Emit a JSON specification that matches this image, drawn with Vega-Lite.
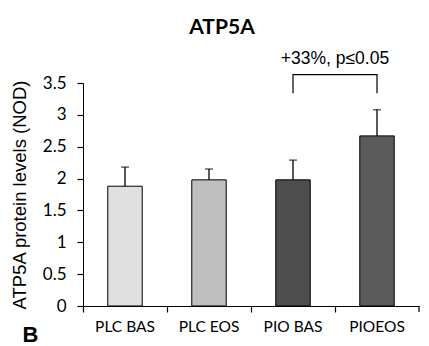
{
  "$schema": "https://vega.github.io/schema/vega-lite/v6.json",
  "autosize": "none",
  "width": 336,
  "height": 223,
  "padding": {"left": 83, "top": 83, "right": 10, "bottom": 40},
  "background": "white",
  "config": {
    "view": {"stroke": null},
    "axisX": {
      "titleAngle": 0, "titleAnchor": "start", "titleAlign": "left", "titleBaseline": "alphabetic",
      "titleX": -61, "titleY": 35, "titleFont": "Liberation Sans", "titleFontSize": 22, "titleFontWeight": "bold", "titleColor": "black",
      "bandPosition": 0, "labelAngle": 0,
      "labelFont": "Lato", "labelFontSize": 15.5, "labelColor": "black", "labelPadding": 7,
      "domainColor": "black", "tickColor": "black", "tickSize": 6, "domainWidth": 1, "tickWidth": 1.2
    },
    "axisY": {
      "titleFont": "Liberation Sans", "titleFontSize": 18.5, "titleFontWeight": "normal", "titleColor": "black", "titlePadding": 13,
      "format": "~g", "grid": false, "labelOverlap": false,
      "labelFont": "Lato", "labelFontSize": 17, "labelColor": "black", "labelPadding": 11,
      "domainColor": "black", "tickColor": "black", "tickSize": 6, "tickWidth": 1.2, "domainWidth": 1
    }
  },
  "title": {"text": "ATP5A", "font": "Lato", "fontWeight": "bold", "fontSize": 21, "color": "black", "offset": 12, "frame": "group", "dx": -29},
  "datasets": {
    "bars": [
      {"group": "PLC BAS", "value": 1.88, "err": 2.18},
      {"group": "PLC EOS", "value": 1.98, "err": 2.15},
      {"group": "PIO BAS", "value": 1.98, "err": 2.29},
      {"group": "PIOEOS", "value": 2.67, "err": 3.08}
    ],
    "bracket": [
      {"group": "PIO BAS", "y": 3.34, "o": 1},
      {"group": "PIO BAS", "y": 3.63, "o": 2},
      {"group": "PIOEOS", "y": 3.63, "o": 3},
      {"group": "PIOEOS", "y": 3.34, "o": 4}
    ]
  },
  "layer": [
    {
      "data": {"name": "bars"},
      "mark": {"type": "bar", "stroke": "black", "strokeWidth": 1, "width": {"band": 0.41}},
      "encoding": {
        "x": {
          "field": "group", "type": "nominal",
          "scale": {"domain": ["PLC BAS", "PLC EOS", "PIO BAS", "PIOEOS"], "paddingInner": 0, "paddingOuter": 0},
          "axis": {"title": "B", "bandPosition": 0}
        },
        "y": {
          "field": "value", "type": "quantitative",
          "scale": {"domain": [0, 3.5], "nice": false},
          "axis": {"title": "ATP5A protein levels (NOD)", "values": [0, 0.5, 1, 1.5, 2, 2.5, 3, 3.5]}
        },
        "fill": {
          "field": "group", "type": "nominal", "legend": null,
          "scale": {"domain": ["PLC BAS", "PLC EOS", "PIO BAS", "PIOEOS"], "range": ["#e0e0e0", "#bfbfbf", "#4d4d4d", "#5a5a5a"]}
        }
      }
    },
    {
      "data": {"name": "bars"},
      "mark": {"type": "rule", "color": "black", "strokeWidth": 1.3},
      "encoding": {
        "x": {"field": "group", "type": "nominal", "axis": {"title": "B", "bandPosition": 0}},
        "y": {"field": "err", "type": "quantitative", "axis": {"title": "ATP5A protein levels (NOD)", "values": [0, 0.5, 1, 1.5, 2, 2.5, 3, 3.5]}},
        "y2": {"field": "value"}
      }
    },
    {
      "data": {"name": "bars"},
      "mark": {"type": "tick", "color": "black", "size": 8, "thickness": 1.3, "orient": "horizontal"},
      "encoding": {
        "x": {"field": "group", "type": "nominal", "axis": {"title": "B", "bandPosition": 0}},
        "y": {"field": "err", "type": "quantitative", "axis": {"title": "ATP5A protein levels (NOD)", "values": [0, 0.5, 1, 1.5, 2, 2.5, 3, 3.5]}}
      }
    },
    {
      "data": {"values": [{"group": "PIOEOS"}]},
      "mark": {"type": "rule", "color": "black", "strokeWidth": 1.2, "clip": false},
      "encoding": {
        "x": {"field": "group", "type": "nominal", "bandPosition": 1, "axis": {"title": "B", "bandPosition": 0}},
        "y": {"datum": 0, "axis": {"title": "ATP5A protein levels (NOD)", "values": [0, 0.5, 1, 1.5, 2, 2.5, 3, 3.5]}},
        "y2": {"datum": -0.094}
      }
    },
    {
      "data": {"name": "bracket"},
      "mark": {"type": "line", "color": "black", "strokeWidth": 1.2, "clip": false},
      "encoding": {
        "x": {"field": "group", "type": "nominal", "axis": {"title": "B", "bandPosition": 0}},
        "y": {"field": "y", "type": "quantitative", "axis": {"title": "ATP5A protein levels (NOD)", "values": [0, 0.5, 1, 1.5, 2, 2.5, 3, 3.5]}},
        "order": {"field": "o"}
      }
    },
    {
      "data": {"values": [{"group": "PIOEOS", "y": 3.88, "label": "+33%, p≤0.05"}]},
      "mark": {"type": "text", "font": "Liberation Sans", "fontSize": 17.5, "color": "black", "clip": false, "align": "center", "baseline": "middle"},
      "encoding": {
        "x": {"field": "group", "type": "nominal", "bandPosition": 0, "axis": {"title": "B", "bandPosition": 0}},
        "y": {"field": "y", "type": "quantitative", "axis": {"title": "ATP5A protein levels (NOD)", "values": [0, 0.5, 1, 1.5, 2, 2.5, 3, 3.5]}},
        "text": {"field": "label"}
      }
    }
  ]
}
